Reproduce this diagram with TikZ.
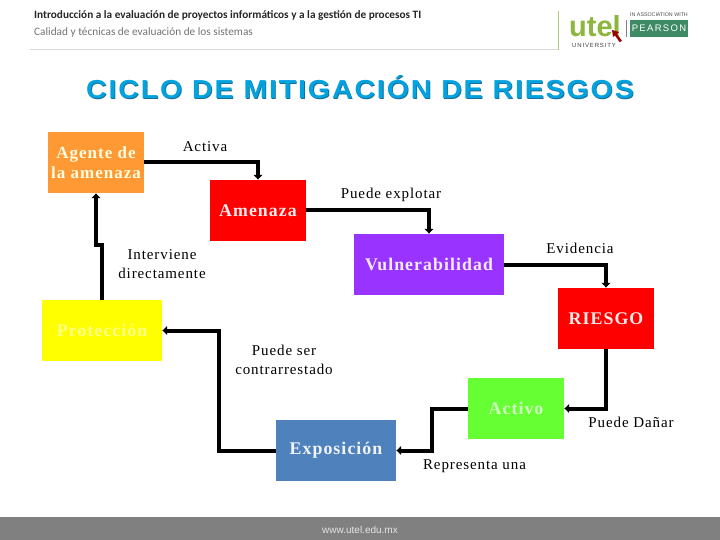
\documentclass[tikz,border=0pt]{standalone}
\usepackage{fontspec}
\setmainfont{Liberation Serif}
\newfontfamily\hdr{Carlito}
\newfontfamily\ttl[LetterSpace=7,FakeStretch=1.1]{Liberation Sans}
\newfontfamily\lbl[LetterSpace=6]{Liberation Serif}
\newfontfamily\sansf{Liberation Sans}
\newfontfamily\sansw[LetterSpace=14]{Liberation Sans}
\usetikzlibrary{arrows.meta}
\definecolor{orangeb}{HTML}{FF9933}
\definecolor{redb}{HTML}{FF0000}
\definecolor{yellowb}{HTML}{FFFF00}
\definecolor{purpleb}{HTML}{9933FF}
\definecolor{greenb}{HTML}{66FF33}
\definecolor{blueb}{HTML}{4F81BD}
\definecolor{titlec}{HTML}{00A2E0}
\definecolor{titles}{HTML}{1B6E96}
\definecolor{utelg}{HTML}{8CB63C}
\definecolor{pears}{HTML}{3F8A66}
\tikzset{
  x=1pt,y=-1pt,
  boxn/.style={draw=none,inner sep=0pt,minimum height=61pt,align=center,
    text=#1,font=\lbl\fontsize{17.8}{20}\selectfont\bfseries},
  boxn/.default=white,
  lab/.style={inner sep=0pt,align=center,font=\lbl\fontsize{15}{19}\selectfont},
  conn/.style={line width=4pt,-{Latex[length=5pt,width=10pt]},miter limit=10},
}
\begin{document}
\begin{tikzpicture}
\useasboundingbox (0,0) rectangle (720,540);
\fill[white] (0,0) rectangle (720,540);
% header
\node[anchor=west,inner sep=0pt,font=\hdr\fontsize{11.25}{13}\selectfont\bfseries,text=black!85] (h1) at (34,16) {Introducción a la evaluación de proyectos informáticos y a la gestión de procesos TI};
\node[anchor=west,inner sep=0pt,font=\hdr\fontsize{11.3}{13}\selectfont,text=black!55] (h2) at (34,32.5) {Calidad y técnicas de evaluación de los sistemas};
\draw[black!15,line width=1pt] (30,49.5) -- (558,49.5);
\draw[utelg!70,line width=1pt] (558,11) -- (558,50);
\node[anchor=center,inner sep=0pt,font=\sansf\fontsize{29}{29}\selectfont\bfseries,text=utelg] (ut) at (595,26) {utel};
\node[inner sep=0pt,font=\sansw\fontsize{6}{6}\selectfont,text=black!75] (un) at (594,45.5) {UNIVERSITY};
\fill[red!60!black] (612,30) -- (619,32) -- (617,34) -- (622,41) -- (619.5,42) -- (615,35.5) -- (613,37) -- cycle;
\draw[black!50,line width=.8pt] (626,20) -- (626,37);
\node[fill=pears,text=white,inner sep=0pt,minimum width=58pt,minimum height=17pt,font=\sansw\fontsize{9.5}{10}\selectfont] (pe) at (659,28.5) {PEARSON};
\node[inner sep=0pt,font=\sansf\fontsize{5.3}{6}\selectfont,text=black!70] (pa) at (659,14.5) {IN ASSOCIATION WITH};
% title
\node[inner sep=0pt,font=\ttl\fontsize{26}{28}\selectfont\bfseries,text=titles] (ts) at (360.8,87.8) {CICLO DE MITIGACIÓN DE RIESGOS};
\node[inner sep=0pt,font=\ttl\fontsize{26}{28}\selectfont\bfseries,text=titlec] (t) at (360,87) {CICLO DE MITIGACIÓN DE RIESGOS};
% boxes
\node[boxn=white!88!yellow,fill=orangeb,minimum width=96pt,font=\lbl\fontsize{17}{20.5}\selectfont\bfseries] (ag) at (96,162.5) {Agente de\\la amenaza};
\node[boxn=white!92!red,fill=redb,minimum width=96pt] (am) at (258,210.5) {Amenaza};
\node[boxn=white!55!yellowb,fill=yellowb,minimum width=120pt] (pr) at (102,330.5) {Protección};
\node[boxn=white!90!purpleb,fill=purpleb,minimum width=150pt] (vu) at (429,264.5) {Vulnerabilidad};
\node[boxn=white!92!red,fill=redb,minimum width=96pt] (ri) at (606,318.5) {RIESGO};
\node[boxn=white!70!greenb,fill=greenb,minimum width=96pt] (ac) at (516,408.5) {Activo};
\node[boxn=white!92!blueb,fill=blueb,minimum width=120pt] (ex) at (336,450.5) {\raisebox{-2pt}{Exposición}};
% footer
\fill[black!50] (0,517) rectangle (720,540);
\node[inner sep=0pt,text=white!90!black,font=\sansf\fontsize{10}{10}\selectfont] (w) at (360,530) {www.utel.edu.mx};
% connectors
\draw[conn] (ag.east) -| (am.north);
\draw[conn] (am.east) -| (vu.north);
\draw[conn] (vu.east) -| (ri.north);
\draw[conn] (ri.south) |- (ac.east);
\coordinate (a1) at (432,408.5);
\coordinate (a2) at (432,450.5);
\draw[conn] (ac.west) -- (a1) -- (a2) -- (ex.east);
\coordinate (e1) at (219,450.5);
\coordinate (e2) at (219,330.5);
\draw[conn] (ex.west) -- (e1) -- (e2) -- (pr.east);
\coordinate (p1) at (102,245);
\coordinate (p2) at (96,245);
\draw[conn] (pr.north) -- (p1) -- (p2) -- (ag.south);
% labels
\node[lab] (l1) at (205,147) {Activa};
\node[lab] (l2) at (391,194.5) {Puede explotar};
\node[lab] (l3) at (162,264) {Interviene\\directamente};
\node[lab] (l4) at (580,248) {Evidencia};
\node[lab] (l5) at (284,360) {Puede ser\\contrarrestado};
\node[lab] (l6) at (631,422.5) {Puede Dañar};
\node[lab] (l7) at (474.5,466) {Representa una};
\end{tikzpicture}
\end{document}
